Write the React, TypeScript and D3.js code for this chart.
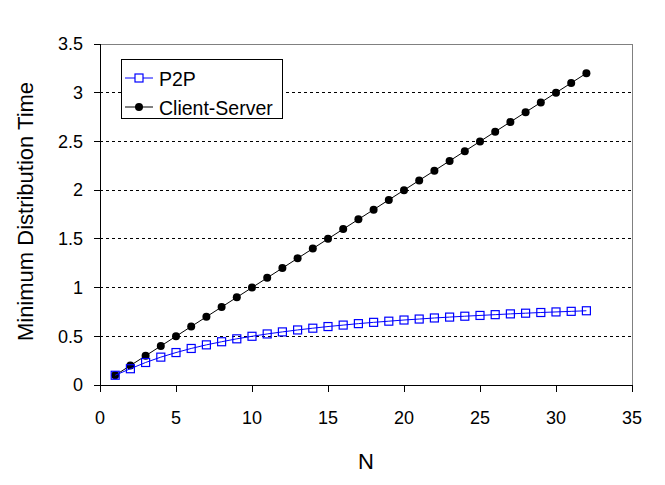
import React from "react";
import * as d3 from "d3";

const nValues = [1,2,3,4,5,6,7,8,9,10,11,12,13,14,15,16,17,18,19,20,21,22,23,24,25,26,27,28,29,30,31,32];
const p2pValues = [0.1,0.167,0.231,0.286,0.333,0.375,0.412,0.444,0.474,0.5,0.524,0.545,0.565,0.583,0.6,0.615,0.63,0.643,0.655,0.667,0.677,0.688,0.697,0.706,0.714,0.722,0.73,0.737,0.744,0.75,0.756,0.762];
const csValues = [0.1,0.2,0.3,0.4,0.5,0.6,0.7,0.8,0.9,1.0,1.1,1.2,1.3,1.4,1.5,1.6,1.7,1.8,1.9,2.0,2.1,2.2,2.3,2.4,2.5,2.6,2.7,2.8,2.9,3.0,3.1,3.2];
const xTicks = [0,5,10,15,20,25,30,35];
const yTicks = [0,0.5,1,1.5,2,2.5,3,3.5];
const yTickLabels = ["0","0.5","1","1.5","2","2.5","3","3.5"];

export default function App() {
  const W = 665, H = 485;
  const L = 100, R = 632, T = 44, B = 385;
  const x = d3.scaleLinear().domain([0, 35]).range([L, R]);
  const y = d3.scaleLinear().domain([0, 3.5]).range([B, T]);
  const font = "Arial, 'Liberation Sans', sans-serif";
  const line = d3.line<[number, number]>().x(d => x(d[0])).y(d => y(d[1]));
  const p2p = nValues.map((n, i) => [n, p2pValues[i]] as [number, number]);
  const cs = nValues.map((n, i) => [n, csValues[i]] as [number, number]);
  return (
    <svg width={W} height={H} style={{ position: "absolute", left: 0, top: 0, background: "#fff" }}>
      <rect x={0} y={0} width={W} height={H} fill="#fff" />
      {yTicks.slice(1, -1).map(t => (
        <line key={t} x1={L} x2={R} y1={y(t)} y2={y(t)} stroke="#000" strokeWidth={1} strokeDasharray="3,3" shapeRendering="crispEdges" />
      ))}
      <line x1={L} x2={R} y1={T} y2={T} stroke="#808080" strokeWidth={1} shapeRendering="crispEdges" />
      <line x1={R} x2={R} y1={T} y2={B} stroke="#808080" strokeWidth={1} shapeRendering="crispEdges" />
      <line x1={L} x2={L} y1={T} y2={B} stroke="#000" strokeWidth={1} shapeRendering="crispEdges" />
      <line x1={L} x2={R} y1={B} y2={B} stroke="#000" strokeWidth={1} shapeRendering="crispEdges" />
      {yTicks.map((t, i) => (
        <g key={"y" + t}>
          <line x1={L - 6} x2={L} y1={y(t)} y2={y(t)} stroke="#000" shapeRendering="crispEdges" />
          <text x={83} y={y(t)} dy="0.35em" textAnchor="end" fontFamily={font} fontSize={18}>{yTickLabels[i]}</text>
        </g>
      ))}
      {xTicks.map(t => (
        <g key={"x" + t}>
          <line x1={x(t)} x2={x(t)} y1={B} y2={B + 7} stroke="#000" shapeRendering="crispEdges" />
          <text x={x(t)} y={418} dy="0.35em" textAnchor="middle" fontFamily={font} fontSize={18}>{t}</text>
        </g>
      ))}
      <text x={(L + R) / 2} y={461} dy="0.35em" textAnchor="middle" fontFamily={font} fontSize={22}>N</text>
      <text transform={`translate(25,211.5) rotate(-90)`} dy="0.35em" textAnchor="middle" fontFamily={font} fontSize={22}>Minimum Distribution Time</text>
      <path d={line(cs) || ""} fill="none" stroke="#000" strokeWidth={1} />
      {cs.map(d => <circle key={"c" + d[0]} cx={x(d[0])} cy={y(d[1])} r={4} fill="#000" />)}
      <path d={line(p2p) || ""} fill="none" stroke="#0000ff" strokeWidth={1} />
      {p2p.map(d => <rect key={"p" + d[0]} x={x(d[0]) - 4} y={y(d[1]) - 4} width={8} height={8} fill="none" stroke="#0000ff" strokeWidth={1.2} />)}
      <rect x={121.5} y={59.5} width={161} height={59} fill="#fff" stroke="#000" strokeWidth={1} />
      <line x1={125} x2={153} y1={78} y2={78} stroke="#0000ff" />
      <rect x={135} y={74} width={8} height={8} fill="#fff" stroke="#0000ff" strokeWidth={1.2} />
      <text x={159} y={79} dy="0.35em" fontFamily={font} fontSize={19.5}>P2P</text>
      <line x1={125} x2={153} y1={107} y2={107} stroke="#000" />
      <circle cx={139} cy={107} r={4} fill="#000" />
      <text x={159} y={108} dy="0.35em" fontFamily={font} fontSize={19.5}>Client-Server</text>
    </svg>
  );
}
